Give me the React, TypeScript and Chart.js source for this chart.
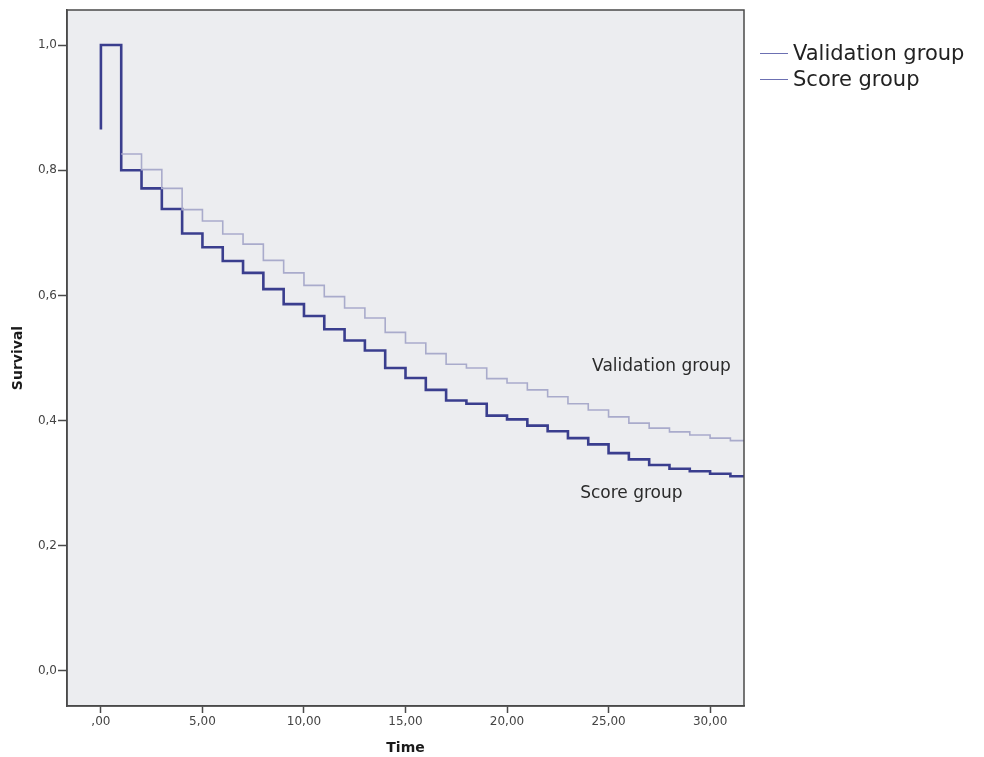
import React, { useEffect, useRef } from "react";
import { Chart, registerables } from "chart.js";

Chart.register(...registerables);

// ---- data ----
const validationTimes = [1, 2, 3, 4, 5, 6, 7, 8, 9, 10, 11, 12, 13, 14, 15, 16, 17, 18, 19, 20, 21, 22, 23, 24, 25, 26, 27, 28, 29, 30, 31];
const validationSurvival = [0.826, 0.801, 0.771, 0.737, 0.719, 0.698, 0.682, 0.656, 0.636, 0.616, 0.598, 0.580, 0.564, 0.541, 0.524, 0.507, 0.490, 0.484, 0.467, 0.460, 0.449, 0.438, 0.427, 0.417, 0.406, 0.396, 0.388, 0.382, 0.377, 0.372, 0.368];

const scoreTimes = [0, 0, 1, 2, 3, 4, 5, 6, 7, 8, 9, 10, 11, 12, 13, 14, 15, 16, 17, 18, 19, 20, 21, 22, 23, 24, 25, 26, 27, 28, 29, 30, 31];
const scoreSurvival = [0.865, 1.0, 0.800, 0.771, 0.738, 0.699, 0.677, 0.655, 0.636, 0.610, 0.586, 0.567, 0.546, 0.528, 0.512, 0.484, 0.468, 0.449, 0.432, 0.427, 0.408, 0.402, 0.392, 0.383, 0.372, 0.362, 0.348, 0.338, 0.329, 0.323, 0.319, 0.315, 0.311];

const seriesNames = ["Validation group", "Score group"];
const xTickValues = [0, 5, 10, 15, 20, 25, 30];
const yTickValues = [0, 0.2, 0.4, 0.6, 0.8, 1.0];
const xTitle = "Time";
const yTitle = "Survival";

const X_MIN = -1.67;
const X_MAX = 31.67;
const Y_MIN = -0.056;
const Y_MAX = 1.056;

const VALID_COLOR = "#a9abcb";
const SCORE_COLOR = "#3a3e8e";
const LEGEND_LINE = "#6c70b2";
const AXIS_COLOR = "#4a4a4a";
const FONT = "'DejaVu Sans', Verdana, sans-serif";

function buildPoints(times: number[], values: number[]) {
  const pts = times.map((t, i) => ({ x: t, y: values[i] }));
  pts.push({ x: X_MAX, y: values[values.length - 1] });
  return pts;
}

const decoPlugin = {
  id: "deco",
  beforeDraw(chart: any) {
    const { ctx, chartArea } = chart;
    ctx.save();
    ctx.fillStyle = "#ffffff";
    ctx.fillRect(0, 0, chart.width, chart.height);
    ctx.fillStyle = "#ecedf0";
    ctx.fillRect(chartArea.left, chartArea.top, chartArea.right - chartArea.left, chartArea.bottom - chartArea.top);
    ctx.restore();
  },
  afterDraw(chart: any) {
    const { ctx, chartArea, scales } = chart;
    ctx.save();
    // frame
    ctx.strokeStyle = AXIS_COLOR;
    ctx.lineWidth = 1.5;
    ctx.strokeRect(chartArea.left, chartArea.top, chartArea.right - chartArea.left, chartArea.bottom - chartArea.top);

    // in-plot labels
    ctx.fillStyle = "#2a2a2a";
    ctx.font = `17px ${FONT}`;
    ctx.textBaseline = "middle";
    ctx.textAlign = "left";
    ctx.fillText(seriesNames[0], scales.x.getPixelForValue(24.19), scales.y.getPixelForValue(0.486));
    ctx.fillText(seriesNames[1], scales.x.getPixelForValue(23.6), scales.y.getPixelForValue(0.283));

    // legend
    const lx = chartArea.right + 16;
    const rows = [55, 81];
    ctx.font = `21px ${FONT}`;
    ctx.fillStyle = "#222222";
    seriesNames.forEach((name, i) => {
      ctx.strokeStyle = LEGEND_LINE;
      ctx.lineWidth = 1;
      ctx.beginPath();
      ctx.moveTo(lx, rows[i] - 1.5);
      ctx.lineTo(lx + 28, rows[i] - 1.5);
      ctx.stroke();
      ctx.fillText(name, lx + 33, rows[i]);
    });

    // axis titles
    ctx.font = `bold 14px ${FONT}`;
    ctx.fillStyle = "#1a1a1a";
    ctx.textAlign = "center";
    ctx.fillText(xTitle, (chartArea.left + chartArea.right) / 2, 748);
    ctx.translate(18, (chartArea.top + chartArea.bottom) / 2);
    ctx.rotate(-Math.PI / 2);
    ctx.fillText(yTitle, 0, 0);
    ctx.restore();
  },
};

export default function App() {
  const ref = useRef<HTMLCanvasElement | null>(null);

  useEffect(() => {
    document.body.style.margin = "0";
    const canvas = ref.current!;
    const chart = new Chart(canvas, {
      type: "line",
      data: {
        datasets: [
          {
            label: seriesNames[0],
            data: buildPoints(validationTimes, validationSurvival),
            borderColor: VALID_COLOR,
            borderWidth: 1.6,
            pointRadius: 0,
            stepped: "before",
            fill: false,
          },
          {
            label: seriesNames[1],
            data: buildPoints(scoreTimes, scoreSurvival),
            borderColor: SCORE_COLOR,
            borderWidth: 2.6,
            pointRadius: 0,
            stepped: "before",
            fill: false,
          },
        ],
      },
      options: {
        responsive: false,
        animation: false,
        events: [],
        layout: { padding: { left: 0, top: 10, right: 240, bottom: 0 } },
        plugins: { legend: { display: false }, tooltip: { enabled: false } },
        scales: {
          x: {
            type: "linear",
            min: X_MIN,
            max: X_MAX,
            afterBuildTicks: (s: any) => {
              s.ticks = xTickValues.map((v) => ({ value: v }));
            },
            afterFit: (s: any) => {
              s.height = 51;
            },
            grid: { drawOnChartArea: false, drawTicks: true, tickLength: 7, tickColor: AXIS_COLOR, tickWidth: 1.5 },
            border: { display: true, color: AXIS_COLOR, width: 1.5 },
            ticks: {
              padding: 2,
              color: "#444444",
              font: { family: FONT, size: 12 },
              maxRotation: 0,
              autoSkip: false,
              callback: (v: any) => (Number(v) === 0 ? ",00" : Number(v).toFixed(2).replace(".", ",")),
            },
          },
          y: {
            type: "linear",
            min: Y_MIN,
            max: Y_MAX,
            afterBuildTicks: (s: any) => {
              s.ticks = yTickValues.map((v) => ({ value: v }));
            },
            afterFit: (s: any) => {
              s.width = 67;
            },
            grid: { drawOnChartArea: false, drawTicks: true, tickLength: 9, tickColor: AXIS_COLOR, tickWidth: 1.5 },
            border: { display: true, color: AXIS_COLOR, width: 1.5 },
            ticks: {
              padding: 1,
              color: "#444444",
              font: { family: FONT, size: 12 },
              autoSkip: false,
              callback: (v: any) => Number(v).toFixed(1).replace(".", ","),
            },
          },
        },
      },
      plugins: [decoPlugin],
    } as any);
    return () => chart.destroy();
  }, []);

  return <canvas ref={ref} width={984} height={757} style={{ display: "block" }} />;
}
